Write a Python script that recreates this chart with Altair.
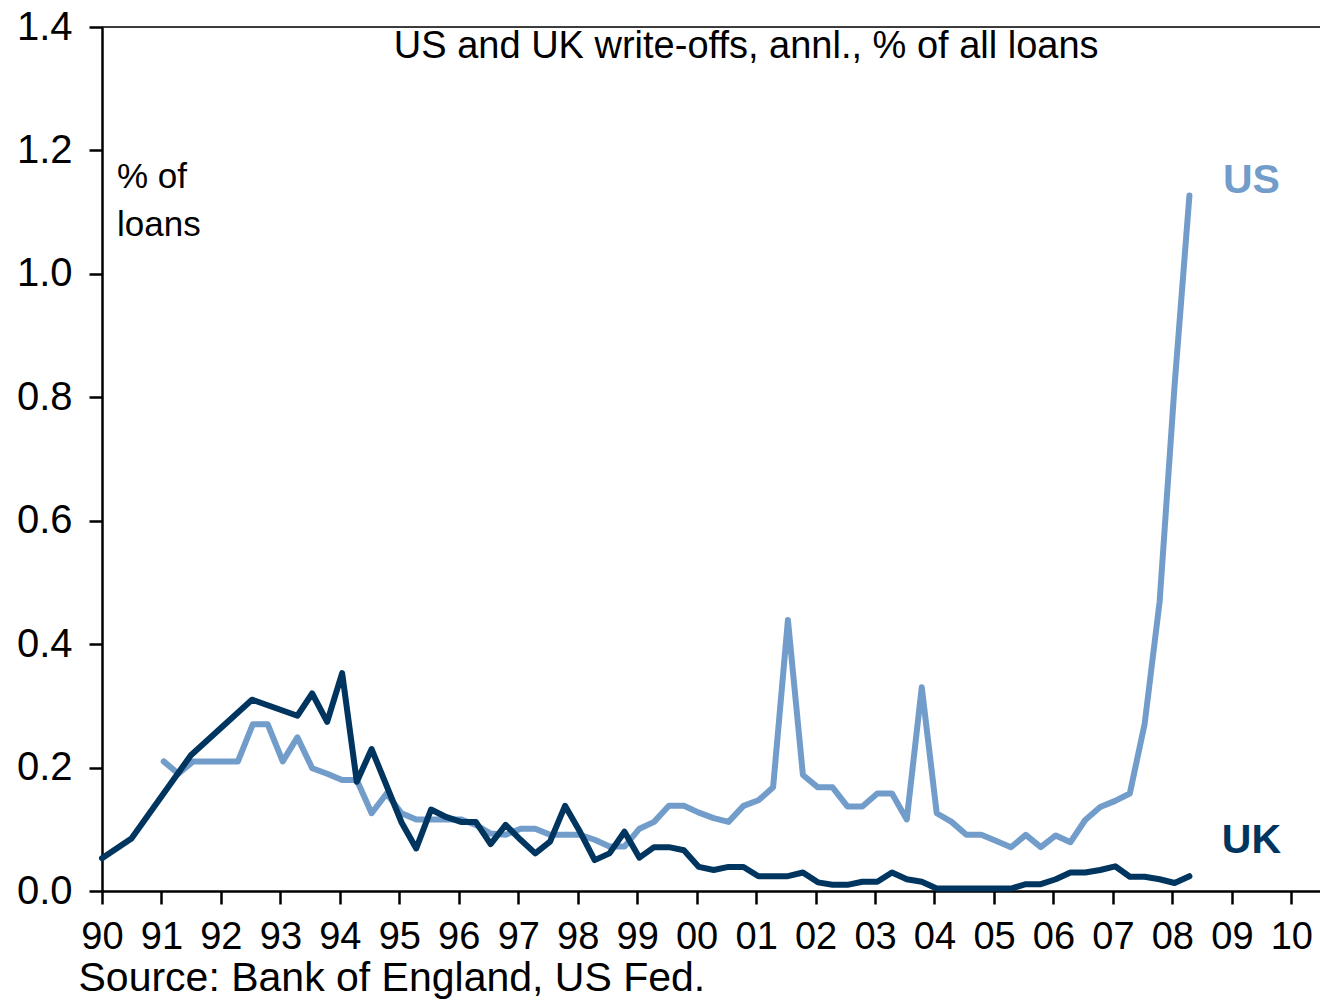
import altair as alt
import pandas as pd

# ---------------- data ----------------
uk_dates = [
    "1990-01-01", "1990-07-01", "1991-07-01", "1992-07-10",
    "1993-04-15", "1993-07-15", "1993-10-15",
    "1994-01-15", "1994-04-15", "1994-07-15",
    "1995-01-15", "1995-04-15", "1995-07-15", "1995-10-15",
    "1996-01-15", "1996-04-15", "1996-07-15", "1996-10-15",
    "1997-01-15", "1997-04-15", "1997-07-15", "1997-10-15",
    "1998-01-15", "1998-04-15", "1998-07-15", "1998-10-15",
    "1999-01-15", "1999-04-15", "1999-07-15", "1999-10-15",
    "2000-01-15", "2000-04-15", "2000-07-15", "2000-10-15",
    "2001-01-15", "2001-04-15", "2001-07-15", "2001-10-15",
    "2002-01-15", "2002-04-15", "2002-07-15", "2002-10-15",
    "2003-01-15", "2003-04-15", "2003-07-15", "2003-10-15",
    "2004-01-15", "2004-04-15", "2004-07-15", "2004-10-15",
    "2005-01-15", "2005-04-15", "2005-07-15", "2005-10-15",
    "2006-01-15", "2006-04-15", "2006-07-15", "2006-10-15",
    "2007-01-15", "2007-04-15", "2007-07-15", "2007-10-15",
    "2008-01-15", "2008-04-15",
]
uk_values = [
    0.053, 0.085, 0.220, 0.310,
    0.284, 0.320, 0.274,
    0.353, 0.177, 0.230,
    0.111, 0.069, 0.132, 0.120,
    0.112, 0.112, 0.076, 0.107,
    0.083, 0.061, 0.080, 0.138,
    0.096, 0.050, 0.061, 0.096,
    0.054, 0.071, 0.071, 0.066,
    0.039, 0.034, 0.039, 0.039,
    0.024, 0.024, 0.024, 0.030,
    0.014, 0.010, 0.010, 0.015,
    0.015, 0.030, 0.019, 0.015,
    0.004, 0.004, 0.004, 0.004,
    0.004, 0.004, 0.011, 0.011,
    0.019, 0.030, 0.030, 0.034,
    0.040, 0.023, 0.023, 0.019,
    0.013, 0.024,
]

us_dates = [
    "1991-01-15", "1991-04-15", "1991-07-15", "1991-10-15",
    "1992-01-15", "1992-04-15", "1992-07-15", "1992-10-15",
    "1993-01-15", "1993-04-15", "1993-07-15", "1993-10-15",
    "1994-01-15", "1994-04-15", "1994-07-15", "1994-10-15",
    "1995-01-15", "1995-04-15", "1995-07-15", "1995-10-15",
    "1996-01-15", "1996-04-15", "1996-07-15", "1996-10-15",
    "1997-01-15", "1997-04-15", "1997-07-15", "1997-10-15",
    "1998-01-15", "1998-04-15", "1998-07-15", "1998-10-15",
    "1999-01-15", "1999-04-15", "1999-07-15", "1999-10-15",
    "2000-01-15", "2000-04-15", "2000-07-15", "2000-10-15",
    "2001-01-15", "2001-04-15", "2001-07-15", "2001-10-15",
    "2002-01-15", "2002-04-15", "2002-07-15", "2002-10-15",
    "2003-01-15", "2003-04-15", "2003-07-15", "2003-10-15",
    "2004-01-15", "2004-04-15", "2004-07-15", "2004-10-15",
    "2005-01-15", "2005-04-15", "2005-07-15", "2005-10-15",
    "2006-01-15", "2006-04-15", "2006-07-15", "2006-10-15",
    "2007-01-15", "2007-04-15", "2007-07-15", "2007-10-15",
    "2008-01-15", "2008-04-15",
]
us_values = [
    0.210, 0.190, 0.210, 0.210,
    0.210, 0.210, 0.270, 0.270,
    0.210, 0.249, 0.199, 0.190,
    0.180, 0.180, 0.126, 0.158,
    0.126, 0.116, 0.116, 0.116,
    0.116, 0.107, 0.093, 0.091,
    0.101, 0.101, 0.091, 0.091,
    0.091, 0.083, 0.072, 0.072,
    0.101, 0.112, 0.138, 0.138,
    0.127, 0.118, 0.112, 0.138,
    0.147, 0.168, 0.439, 0.188,
    0.168, 0.168, 0.137, 0.137,
    0.158, 0.158, 0.116, 0.330,
    0.126, 0.112, 0.091, 0.091,
    0.081, 0.071, 0.091, 0.071,
    0.090, 0.079, 0.115, 0.136,
    0.146, 0.158, 0.271, 0.469,
    0.820, 1.127,
]

x_tick_years = list(range(1990, 2011))
y_tick_values = [0.0, 0.2, 0.4, 0.6, 0.8, 1.0, 1.2, 1.4]

title_text = "US and UK write-offs, annl., % of all loans"
source_text = "Source: Bank of England, US Fed."
unit_lines = ["% of", "loans"]
series_labels = ["US", "UK"]

# ---------------- styling ----------------
FONT = "Liberation Sans"
UK_COLOR = "#00355F"
US_COLOR = "#729DCA"


def dt(y, m, d):
    return alt.DateTime(year=y, month=m, date=d, utc=True)


x_scale = alt.Scale(type="utc", domain=[dt(1990, 1, 1), dt(2010, 6, 26)], nice=False)
y_scale = alt.Scale(domain=[0, 1.4], nice=False, zero=True)

x_axis = alt.Axis(
    values=[dt(y, 1, 1) for y in x_tick_years],
    labelExpr="utcFormat(datum.value, '%y')",
    labelFontSize=38, labelFont=FONT, labelColor="black",
    labelPadding=14, labelFlush=False, labelOverlap=False,
    tickSize=13, tickWidth=2.5, tickColor="black",
    domainColor="black", domainWidth=2.5,
    grid=False,
    title=source_text, titleFont=FONT, titleFontSize=41, titleFontWeight="normal",
    titleColor="black", titleX=-24, titleY=99, titleAlign="left",
    titleBaseline="alphabetic", titleAnchor="start",
)
y_axis = alt.Axis(
    values=y_tick_values, format=".1f",
    labelFontSize=40, labelFont=FONT, labelColor="black", labelPadding=17,
    tickSize=13, tickWidth=2.5, tickColor="black",
    domainColor="black", domainWidth=2.5,
    grid=False, title=None,
)

uk_df = pd.DataFrame({"date": uk_dates, "value": uk_values})
us_df = pd.DataFrame({"date": us_dates, "value": us_values})

us_line = alt.Chart(us_df).mark_line(
    color=US_COLOR, strokeWidth=6, strokeJoin="round", strokeCap="round"
).encode(
    x=alt.X("date:T", scale=x_scale, axis=x_axis),
    y=alt.Y("value:Q", scale=y_scale, axis=y_axis),
)
uk_line = alt.Chart(uk_df).mark_line(
    color=UK_COLOR, strokeWidth=6, strokeJoin="round", strokeCap="round"
).encode(
    x=alt.X("date:T"),
    y=alt.Y("value:Q"),
)

top_rule = alt.Chart(pd.DataFrame({"v": [1.4]})).mark_rule(
    color="black", strokeWidth=1.5
).encode(y="v:Q")

title_df = pd.DataFrame({"date": ["2000-11-01"], "value": [1.3496], "t": [title_text]})
title_mark = alt.Chart(title_df).mark_text(
    font=FONT, fontSize=38, color="black", align="center", baseline="alphabetic"
).encode(x="date:T", y="value:Q", text="t:N")

unit_df = pd.DataFrame({"date": ["1990-04-03", "1990-04-03"], "value": [1.1392, 1.0608], "t": unit_lines})
unit_mark = alt.Chart(unit_df).mark_text(
    font=FONT, fontSize=35, color="black", align="left", baseline="alphabetic"
).encode(x="date:T", y="value:Q", text="t:N")

lab_df = pd.DataFrame({
    "date": ["2009-05-01", "2009-05-01"],
    "value": [1.1318, 0.0616],
    "t": series_labels,
})
lab_mark = alt.Chart(lab_df).mark_text(
    font=FONT, fontSize=41, fontWeight="bold", align="center", baseline="alphabetic"
).encode(
    x="date:T", y="value:Q", text="t:N",
    color=alt.Color("t:N", scale=alt.Scale(domain=series_labels, range=[US_COLOR, UK_COLOR]), legend=None),
)

chart = alt.layer(
    top_rule, us_line, uk_line, title_mark, unit_mark, lab_mark
).properties(
    width=1218, height=864,
    padding={"left": 94, "top": 19, "right": 0, "bottom": 109},
    autosize=alt.AutoSizeParams(type="none"),
).configure_view(stroke=None).configure(background="white", font=FONT)

chart.save("out.html", embed_options={"renderer": "svg", "actions": False})
